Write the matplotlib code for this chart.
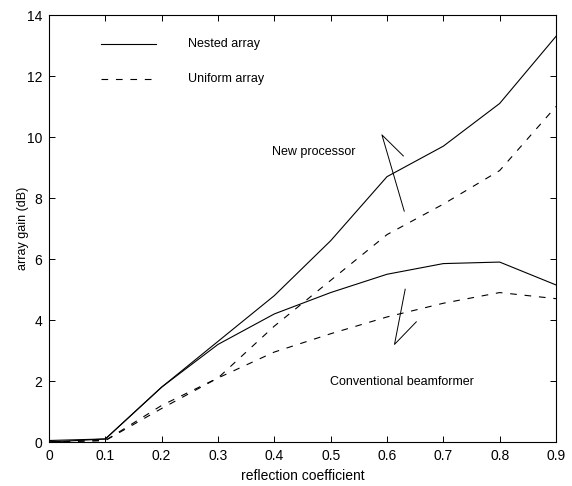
import matplotlib

matplotlib.use("Agg")
import matplotlib.pyplot as plt

plt.rcParams["font.family"] = ["Liberation Sans", "DejaVu Sans"]

# reflection coefficient
refl = [0.0, 0.1, 0.2, 0.3, 0.4, 0.5, 0.6, 0.7, 0.8, 0.9]

# array gain (dB)
new_nested = [0.05, 0.1, 1.8, 3.3, 4.8, 6.6, 8.7, 9.7, 11.1, 13.3]
new_uniform = [0.0, 0.05, 1.2, 2.1, 3.8, 5.3, 6.8, 7.8, 8.9, 11.0]
conv_nested = [0.0, 0.1, 1.8, 3.2, 4.2, 4.9, 5.5, 5.85, 5.9, 5.15]
conv_uniform = [0.0, 0.05, 1.1, 2.1, 2.95, 3.55, 4.1, 4.55, 4.9, 4.7]

fig = plt.figure(figsize=(5.72, 4.86), dpi=100)
ax = fig.add_axes([0.0857, 0.0905, 0.8863, 0.8786])

lw = 0.8
dash = (0, (6, 7))
ax.plot(refl, new_nested, color="black", linewidth=lw)
ax.plot(refl, conv_nested, color="black", linewidth=lw)
ax.plot(refl, new_uniform, color="black", linewidth=lw, linestyle=dash)
ax.plot(refl, conv_uniform, color="black", linewidth=lw, linestyle=dash)

# hand-drawn style legend inside the axes
ax.plot([0.092, 0.19], [13.05, 13.05], color="black", linewidth=lw)
ax.text(0.247, 13.05, "Nested array", fontsize=9, va="center", ha="left")
ax.plot([0.092, 0.19], [11.9, 11.9], color="black", linewidth=lw, linestyle=dash)
ax.text(0.247, 11.9, "Uniform array", fontsize=9, va="center", ha="left")

# annotation pointers
ax.plot([0.6306, 0.591, 0.629], [7.57, 10.07, 9.38], color="black", linewidth=0.7)
ax.text(0.396, 9.5, "New processor", fontsize=9, va="center", ha="left")
ax.plot([0.6323, 0.6133, 0.652], [5.01, 3.2, 3.94], color="black", linewidth=0.7)
ax.text(0.499, 1.97, "Conventional beamformer", fontsize=9, va="center", ha="left")

ax.set_xlim(0, 0.9)
ax.set_ylim(0, 14)
ax.set_xticks(refl)
ax.set_xticklabels(["0", "0.1", "0.2", "0.3", "0.4", "0.5", "0.6", "0.7", "0.8", "0.9"])
ax.set_yticks(range(0, 15, 2))
ax.tick_params(direction="in", top=True, right=True, labelsize=10, length=4, width=0.7, pad=5)
for spine in ax.spines.values():
    spine.set_linewidth(0.8)

ax.set_xlabel("reflection coefficient", fontsize=10)
ax.set_ylabel("array gain (dB)", fontsize=9, labelpad=-2)

fig.savefig("out.png", dpi=100)
